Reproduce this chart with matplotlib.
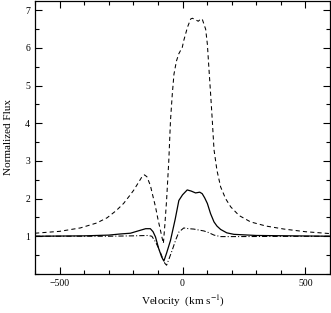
import matplotlib
matplotlib.use("Agg")
import matplotlib.pyplot as plt
from matplotlib.ticker import MultipleLocator

# dashed profile
v_dash = [-600, -500, -416, -350, -307, -270, -240, -215, -199, -180, -165, -155,
          -145, -131, -120, -110, -100, -90, -83, -78, -72, -65, -56, -49, -42,
          -35, -25, -15, -1, 5, 20, 33, 40, 50, 64, 72, 80, 94, 101, 107, 114,
          121, 128, 140, 155, 175, 196, 230, 277, 340, 413, 500, 600]
f_dash = [1.08, 1.13, 1.22, 1.35, 1.49, 1.68, 1.87, 2.08, 2.22, 2.42, 2.58, 2.63,
          2.58, 2.35, 2.05, 1.78, 1.45, 1.16, 0.95, 0.81, 1.3, 1.95, 3.0, 4.08, 4.75,
          5.3, 5.65, 5.85, 6.02, 6.2, 6.55, 6.77, 6.79, 6.76, 6.71, 6.76, 6.77, 6.5,
          6.1, 5.49, 4.8, 4.08, 3.3, 2.75, 2.31, 2.0, 1.78, 1.55, 1.38, 1.27, 1.19,
          1.12, 1.07]

# solid profile
v_solid = [-600, -400, -300, -253, -212, -171, -150, -131, -120, -110, -97, -85,
           -76, -65, -49, -30, -15, 0, 19, 35, 53, 70, 80, 90, 101, 114, 128, 140,
           155, 180, 209, 300, 600]
f_solid = [1.0, 1.01, 1.03, 1.06, 1.08, 1.16, 1.2, 1.2, 1.12, 0.98, 0.67, 0.45,
           0.34, 0.55, 0.89, 1.45, 1.95, 2.1, 2.23, 2.2, 2.15, 2.17, 2.13, 2.02,
           1.87, 1.6, 1.38, 1.27, 1.18, 1.09, 1.05, 1.02, 1.0]

# dash-dot profile
v_dd = [-600, -300, -200, -140, -125, -110, -95, -83, -72, -65, -55, -42, -28,
        -15, 5, 25, 46, 70, 87, 105, 128, 155, 200, 600]
f_dd = [1.0, 1.0, 1.01, 1.02, 1.0, 0.85, 0.65, 0.45, 0.28, 0.23, 0.4, 0.63, 0.9,
        1.11, 1.22, 1.2, 1.19, 1.16, 1.14, 1.1, 1.03, 0.99, 0.99, 1.0]

plt.rcParams['font.family'] = ['Liberation Serif', 'DejaVu Serif']
plt.rcParams['mathtext.fontset'] = 'stix'

fig = plt.figure(figsize=(3.31, 3.13), dpi=100)
ax = fig.add_axes([0.106, 0.125, 0.891, 0.872])

ax.plot(v_dash, f_dash, color='black', lw=0.75, linestyle=(0, (4, 3)))
ax.plot(v_solid, f_solid, color='black', lw=0.9)
ax.plot(v_dd, f_dd, color='black', lw=0.75, linestyle=(0, (5, 2, 1, 2)))

ax.set_xlim(-600, 600)
ax.set_ylim(0, 7.25)
ax.xaxis.set_major_locator(MultipleLocator(500))
ax.xaxis.set_minor_locator(MultipleLocator(100))
ax.yaxis.set_minor_locator(MultipleLocator(0.5))
ax.set_yticks([1, 2, 3, 4, 5, 6, 7])
ax.tick_params(which='both', direction='in', top=True, right=True, labelsize=7,
               width=0.8)
ax.tick_params(which='major', length=5)
ax.tick_params(which='minor', length=3)
for s in ax.spines.values():
    s.set_linewidth(0.9)

ax.set_xlabel(r'Velocity  (km s$^{-1}$)', fontsize=8, labelpad=4)
ax.set_ylabel('Normalized Flux', fontsize=8, labelpad=9)

fig.savefig('out.png', dpi=100)
